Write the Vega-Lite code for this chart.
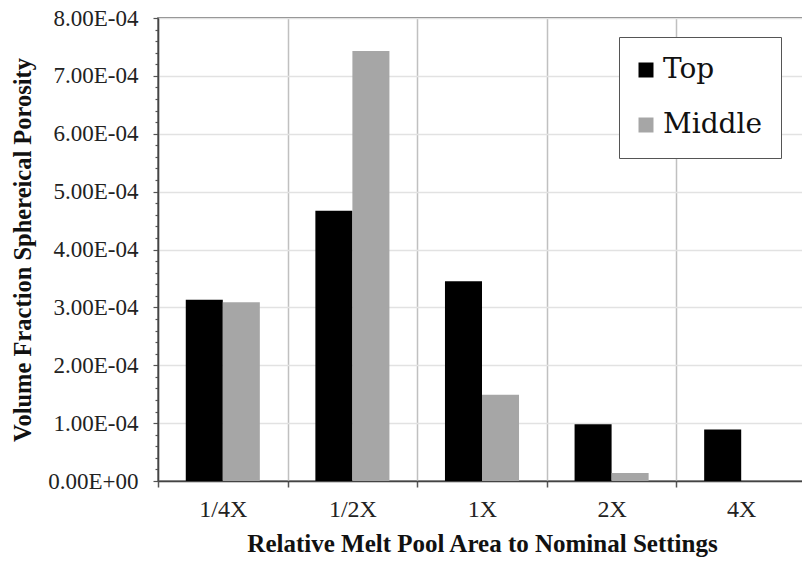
{
  "$schema": "https://vega.github.io/schema/vega-lite/v6.json",
  "autosize": "none",
  "padding": {"left": 158, "top": 18, "right": 0, "bottom": 86},
  "width": 648,
  "height": 463,
  "background": "white",
  "config": {
    "view": {"stroke": "#555555", "strokeWidth": 1.5},
    "font": "Liberation Serif"
  },
  "data": {
    "values": [
      {"setting": "1/4X", "position": "Top", "value": 0.000313},
      {"setting": "1/4X", "position": "Middle", "value": 0.000309},
      {"setting": "1/2X", "position": "Top", "value": 0.000467},
      {"setting": "1/2X", "position": "Middle", "value": 0.000743},
      {"setting": "1X", "position": "Top", "value": 0.000345},
      {"setting": "1X", "position": "Middle", "value": 0.000149},
      {"setting": "2X", "position": "Top", "value": 0.000098},
      {"setting": "2X", "position": "Middle", "value": 0.000014},
      {"setting": "4X", "position": "Top", "value": 0.000089}
    ]
  },
  "mark": {"type": "bar"},
  "encoding": {
    "x": {
      "field": "setting",
      "type": "nominal",
      "sort": ["1/4X", "1/2X", "1X", "2X", "4X"],
      "scale": {"paddingInner": 0, "paddingOuter": 0},
      "axis": {
        "title": "Relative Melt Pool Area to Nominal Settings",
        "titleFont": "Liberation Serif",
        "titleFontSize": 25,
        "titleFontWeight": "bold",
        "titleColor": "#111111",
        "titlePadding": 10,
        "labelAngle": 0,
        "labelFont": "Liberation Serif",
        "labelFontSize": 24,
        "labelColor": "#222222",
        "labelPadding": 10,
        "tickBand": "extent",
        "grid": true,
        "gridColor": "#c0c0c0",
        "gridWidth": 1.5,
        "ticks": true,
        "tickSize": 6,
        "tickColor": "#555555",
        "tickWidth": 1.5,
        "domainColor": "#444444",
        "domainWidth": 1.5
      }
    },
    "xOffset": {
      "field": "position",
      "type": "nominal",
      "sort": ["Top", "Middle"],
      "scale": {"paddingInner": 0, "paddingOuter": 0.75}
    },
    "y": {
      "field": "value",
      "type": "quantitative",
      "scale": {"domain": [0, 0.0008], "nice": false},
      "axis": {
        "title": "Volume Fraction Sphereical Porosity",
        "titleFont": "Liberation Serif",
        "titleFontSize": 24.5,
        "titleFontWeight": "bold",
        "titleColor": "#111111",
        "titlePadding": 12,
        "tickCount": 40,
        "labelOverlap": false,
        "labelFlush": false,
        "labelFont": "Liberation Serif",
        "labelFontSize": 23,
        "labelColor": "#222222",
        "labelPadding": 15,
        "labelExpr": "abs(datum.value*10000 - round(datum.value*10000)) < 0.001 ? (round(datum.value*10000) == 0 ? '0.00E+00' : round(datum.value*10000) + '.00E-04') : ''",
        "grid": true,
        "gridColor": "#e2e2e2",
        "gridWidth": 1.5,
        "gridOpacity": {"condition": {"test": "abs(datum.value*10000 - round(datum.value*10000)) < 0.001", "value": 1}, "value": 0},
        "tickSize": {"condition": {"test": "abs(datum.value*10000 - round(datum.value*10000)) < 0.001", "value": 5}, "value": 3},
        "tickColor": "#555555",
        "tickWidth": 1.2,
        "domainColor": "#444444",
        "domainWidth": 1.5
      }
    },
    "color": {
      "field": "position",
      "type": "nominal",
      "sort": ["Top", "Middle"],
      "scale": {"domain": ["Top", "Middle"], "range": ["#000000", "#a6a6a6"]},
      "legend": {
        "title": null,
        "orient": "none",
        "legendX": 461,
        "legendY": 19,
        "direction": "vertical",
        "fillColor": "white",
        "strokeColor": "#555555",
        "padding": 19,
        "symbolType": "square",
        "symbolSize": 225,
        "symbolStrokeWidth": 0,
        "symbolOffset": -6,
        "labelFont": "DejaVu Serif",
        "labelFontSize": 28,
        "labelColor": "#111111",
        "labelOffset": 3,
        "rowPadding": 27
      }
    }
  }
}
